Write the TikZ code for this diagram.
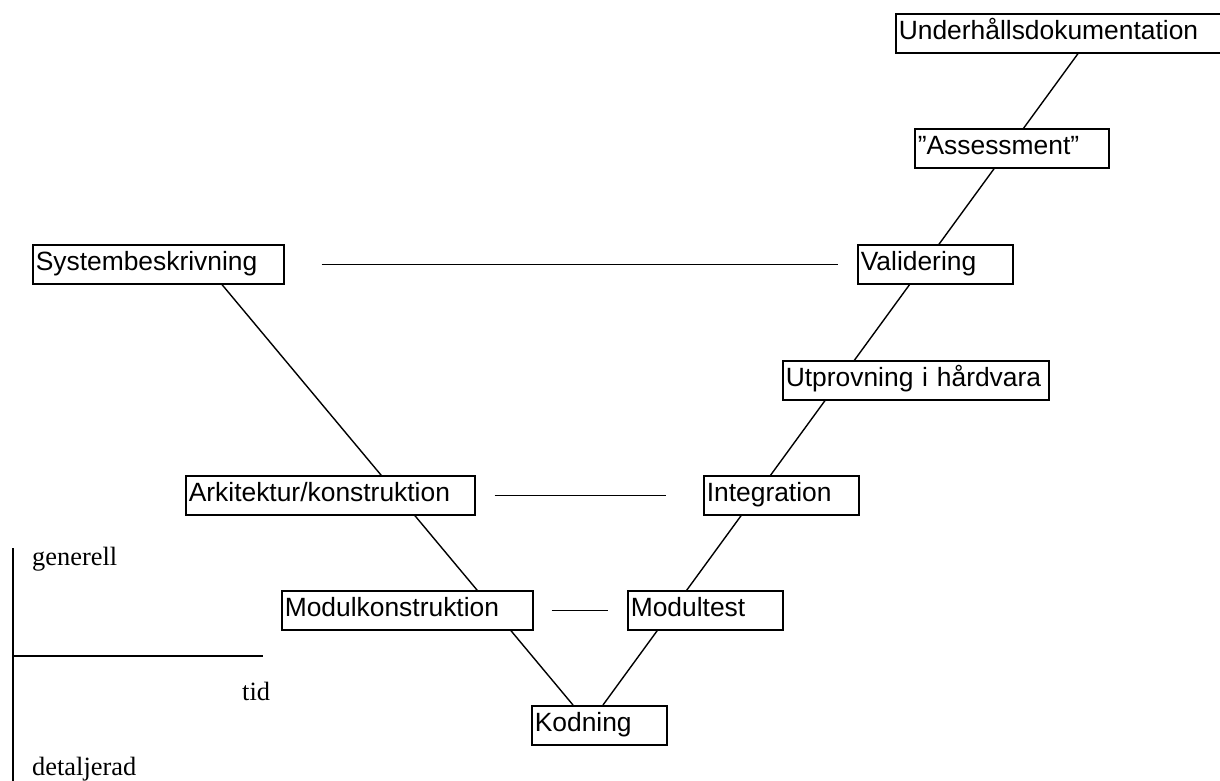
\documentclass[tikz,border=0pt]{standalone}
\usepackage{fontspec}
\setmainfont{Liberation Serif}
\newfontfamily\boxfont{Liberation Sans}
\usetikzlibrary{calc,backgrounds}
\tikzset{
  stagebox/.style={draw, line width=1.6pt, fill=white, anchor=north west,
    inner xsep=3pt, inner ysep=0pt, minimum height=39pt, align=left,
    text height=21pt, text depth=9pt,
    font=\boxfont\fontsize{26.4}{30}\selectfont},
  conn/.style={line width=1.4pt},
  axis/.style={line width=1.6pt},
  axlabel/.style={anchor=base west, inner sep=0pt, font=\fontsize{26.4}{30}\selectfont}
}
\begin{document}
\begin{tikzpicture}[x=1pt,y=-1pt]
\clip (0,0) rectangle (1220,781);
% boxes
\node[stagebox, text width=245pt] (sys)  at (32,244)  {Systembeskrivning};
\node[stagebox, text width=283pt] (ark)  at (185,475) {Arkitektur/konstruktion};
\node[stagebox, text width=245pt] (modk) at (281,590) {Modulkonstruktion};
\node[stagebox, text width=129pt] (kod)  at (531,705) {Kodning};
\node[stagebox, text width=149pt] (modt) at (627,590) {Modultest};
\node[stagebox, text width=149pt] (int)  at (703,475) {Integration};
\node[stagebox, text width=260pt] (utp)  at (782,360) {Utprovning i hårdvara};
\node[stagebox, text width=149pt] (val)  at (857,244) {Validering};
\node[stagebox, text width=188pt] (ass)  at (914,128) {”Assessment”};
\node[stagebox, text width=339pt] (und)  at (895,13)  {Underhållsdokumentation};
% V lines behind boxes
\begin{scope}[on background layer]
\fill[white] (0,0) rectangle (1220,781);
\draw[conn] ($(sys.south west)+(190,0)$) -- ($(kod.north west)+(42,0)$);
\draw[conn] ($(kod.north west)+(72,0)$) -- ($(und.south west)+(183,0)$);
\end{scope}
% horizontal links
\draw[conn] ($(sys.east)+(37,0)$) -- ($(val.west)+(-19,0)$);
\draw[conn] ($(ark.east)+(19,0)$) -- ($(int.west)+(-37,0)$);
\draw[conn] ($(modk.east)+(18,0)$) -- ($(modt.west)+(-19,0)$);
% axes
\coordinate (ytop) at (13,548);
\coordinate (ybot) at (13,781);
\coordinate (orig) at (13,656);
\coordinate (xend) at (263,656);
\draw[axis] (ytop) -- (ybot);
\draw[axis] (orig) -- (xend);
\node[axlabel] (gen) at (32,565) {generell};
\node[axlabel] (tid) at (242,700) {tid};
\node[axlabel] (det) at (32,775) {detaljerad};
\end{tikzpicture}
\end{document}
